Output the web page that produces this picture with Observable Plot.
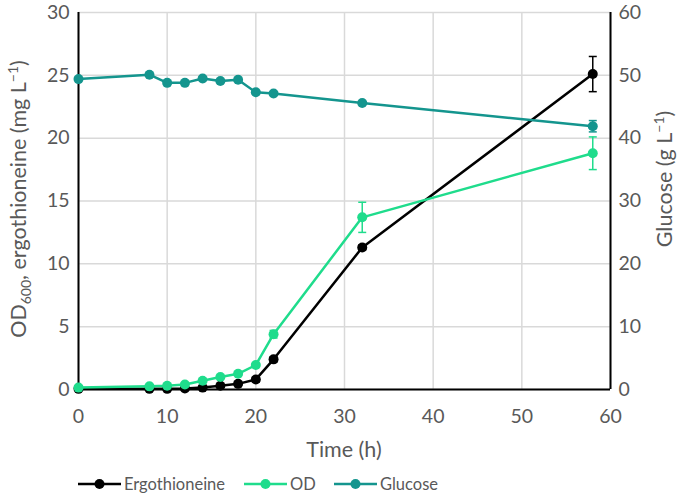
<!DOCTYPE html>
<html>
<head>
<meta charset="utf-8">
<script src="https://cdn.jsdelivr.net/npm/d3@7"></script>
<script src="https://cdn.jsdelivr.net/npm/@observablehq/plot@0.6"></script>
<style>
  body { margin: 0; background: #fff; font-family: Lato, "Open Sans", sans-serif; }
  #legend { position: relative; height: 24px; font-size: 16.5px; color: #595959; }
  .item { display: flex; align-items: center; position: absolute; top: 2px; }
  .item svg { margin-right: 3px; }
</style>
</head>
<body>
<div id="chart"></div>
<div id="legend"></div>
<script>
const time       = [0, 8, 10, 12, 14, 16, 18, 20, 22, 32, 58];
const ergo       = [0.05, 0.05, 0.05, 0.08, 0.15, 0.3, 0.45, 0.8, 2.4, 11.3, 25.1];
const ergoErr    = [0, 0, 0, 0, 0, 0.05, 0.1, 0.2, 0.2, 0.2, 1.4];
const od         = [0.15, 0.25, 0.3, 0.4, 0.7, 1.0, 1.25, 1.95, 4.4, 13.7, 18.8];
const odErr      = [0, 0, 0, 0, 0, 0, 0, 0.1, 0.3, 1.2, 1.3];
const glucose    = [49.4, 50.1, 48.8, 48.8, 49.5, 49.1, 49.3, 47.3, 47.1, 45.6, 41.9];
const glucoseErr = [0, 0, 0, 0, 0, 0, 0, 0, 0, 0, 0.9];
const xTicks = [0, 10, 20, 30, 40, 50, 60];
const yTicks = [0, 5, 10, 15, 20, 25, 30];
const gTicks = [0, 10, 20, 30, 40, 50, 60];

const colors = {ergo: "#000000", od: "#1fdc8c", glucose: "#14958e"};

// glucose is drawn on the left scale (g/L ÷ 2), right axis shows g/L
const series = [
  {key: "ergo", name: "Ergothioneine", vals: ergo, errs: ergoErr, k: 1},
  {key: "od", name: "OD", vals: od, errs: odErr, k: 1},
  {key: "glucose", name: "Glucose", vals: glucose, errs: glucoseErr, k: 0.5}
];
const rows = series.flatMap(s => time.map((t, i) => ({series: s.key, t, v: s.vals[i] * s.k, e: s.errs[i] * s.k})));
const errRows = rows.filter(d => d.e > 0);

const grid = "#d9d9d9";
const tickColor = "#595959";
const FONT = "Lato, 'Open Sans', sans-serif";

const marks = [
  Plot.gridX(xTicks, {stroke: grid, strokeOpacity: 1, strokeWidth: 1.5}),
  Plot.gridY(yTicks, {stroke: grid, strokeOpacity: 1, strokeWidth: 1.5}),
  Plot.axisX(xTicks, {tickSize: 0, tickPadding: 20, label: null, fontSize: 19.5, color: tickColor}),
  Plot.axisY(yTicks, {anchor: "left", tickSize: 0, tickPadding: 9, label: null, fontSize: 19.5, color: tickColor}),
  Plot.axisY(gTicks.map(g => g / 2), {anchor: "right", tickSize: 0, tickPadding: 8, label: null, fontSize: 19.5, color: tickColor, tickFormat: d => String(d * 2)}),
  Plot.ruleY([0], {stroke: "black", strokeWidth: 2}),
  Plot.ruleX([0, 60], {stroke: "black", strokeWidth: 2})
];
for (const s of series) {
  const data = rows.filter(d => d.series === s.key);
  const errs = errRows.filter(d => d.series === s.key);
  const c = colors[s.key];
  marks.push(
    Plot.line(data, {x: "t", y: "v", stroke: c, strokeWidth: 2.5}),
    Plot.ruleX(errs, {x: "t", y1: d => d.v - d.e, y2: d => d.v + d.e, stroke: c, strokeWidth: 1.5}),
    Plot.link(errs, {x1: d => d.t - 0.45, x2: d => d.t + 0.45, y1: d => d.v + d.e, y2: d => d.v + d.e, stroke: c, strokeWidth: 1.5}),
    Plot.link(errs, {x1: d => d.t - 0.45, x2: d => d.t + 0.45, y1: d => d.v - d.e, y2: d => d.v - d.e, stroke: c, strokeWidth: 1.5}),
    Plot.dot(data, {x: "t", y: "v", r: 5, fill: c, stroke: "none"})
  );
}

const chart = Plot.plot({
  width: 678,
  height: 472,
  marginLeft: 78,
  marginRight: 68,
  marginTop: 12,
  marginBottom: 83,
  style: {fontFamily: FONT, background: "#fff"},
  x: {domain: [0, 60]},
  y: {domain: [0, 30]},
  marks
});
document.getElementById("chart").appendChild(chart);

// axis titles with sub/superscripts
const svg = d3.select(chart);
const labelStyle = t => t.attr("fill", tickColor).attr("font-size", 21.5).attr("text-anchor", "middle").attr("font-family", FONT);
const yl = svg.append("text").attr("transform", "translate(26,199) rotate(-90)").call(labelStyle);
yl.append("tspan").text("OD");
yl.append("tspan").attr("font-size", 14).attr("dy", 5).text("600");
yl.append("tspan").attr("dy", -5).text(", ergothioneine (mg L");
yl.append("tspan").attr("font-size", 14).attr("dy", -8).text("−1");
yl.append("tspan").attr("dy", 8).text(")");

const gl = svg.append("text").attr("transform", "translate(672,179) rotate(-90)").call(labelStyle);
gl.append("tspan").text("Glucose (g L");
gl.append("tspan").attr("font-size", 14).attr("dy", -8).text("−1");
gl.append("tspan").attr("dy", 8).text(")");

svg.append("text").attr("x", 344).attr("y", 457).call(labelStyle).text("Time (h)");

// legend
const leg = document.getElementById("legend");
const pos = [78, 244, 334];
series.forEach((s, i) => {
  const item = document.createElement("div");
  item.className = "item";
  item.style.left = pos[i] + "px";
  item.innerHTML = `<svg width="43" height="12"><line x1="0" x2="43" y1="6" y2="6" stroke="${colors[s.key]}" stroke-width="2.5"/><circle cx="21.5" cy="6" r="5" fill="${colors[s.key]}"/></svg><span>${s.name}</span>`;
  leg.appendChild(item);
});
</script>
</body>
</html>
